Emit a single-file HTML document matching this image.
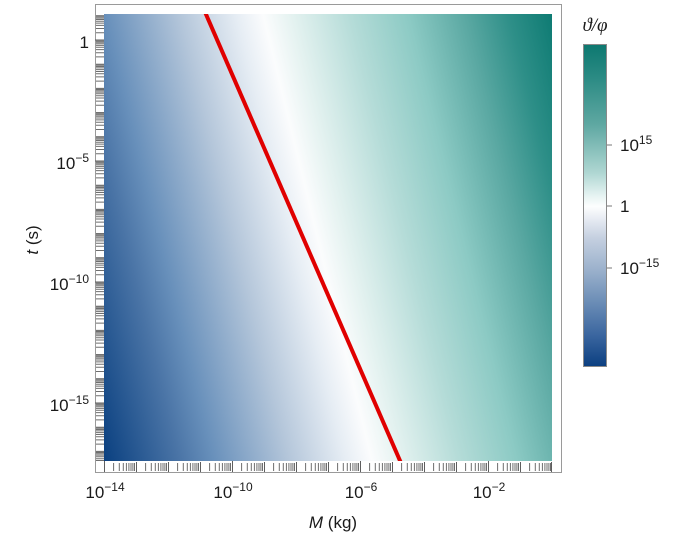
<!DOCTYPE html>
<html><head><meta charset="utf-8">
<style>
html,body{margin:0;padding:0;background:#fff;}
svg{display:block;}
text{font-family:"Liberation Sans",Arial,sans-serif;fill:#1a1a1a;}
</style></head>
<body>
<svg width="679" height="542" viewBox="0 0 679 542" xmlns="http://www.w3.org/2000/svg">
<defs>
<linearGradient id="pg" gradientUnits="userSpaceOnUse" x1="10" y1="75.7" x2="535.8" y2="-52.5">
<stop offset="0" stop-color="#0a4080"/>
<stop offset="0.135" stop-color="#4a74a6"/>
<stop offset="0.197" stop-color="#6890bb"/>
<stop offset="0.332" stop-color="#b4c6da"/>
<stop offset="0.433" stop-color="#e6edf4"/>
<stop offset="0.481" stop-color="#fbfcfd"/>
<stop offset="0.533" stop-color="#e4f2f0"/>
<stop offset="0.637" stop-color="#b5dcd8"/>
<stop offset="0.741" stop-color="#8ccac4"/>
<stop offset="0.844" stop-color="#5aa8a2"/>
<stop offset="0.922" stop-color="#2e8f88"/>
<stop offset="1" stop-color="#0e7b73"/>
</linearGradient>
<linearGradient id="cg" x1="0" y1="0" x2="0" y2="1">
<stop offset="0" stop-color="#0d7870"/>
<stop offset="0.1" stop-color="#2a8a83"/>
<stop offset="0.25" stop-color="#5fa8a2"/>
<stop offset="0.4" stop-color="#b0d7d3"/>
<stop offset="0.47" stop-color="#e6f3f2"/>
<stop offset="0.503" stop-color="#fdfefe"/>
<stop offset="0.54" stop-color="#e8ecf3"/>
<stop offset="0.6" stop-color="#c5d0e0"/>
<stop offset="0.7" stop-color="#9bb1cc"/>
<stop offset="0.8" stop-color="#6b8db6"/>
<stop offset="0.9" stop-color="#3c67a0"/>
<stop offset="1" stop-color="#0b3f80"/>
</linearGradient>
<clipPath id="pc"><rect x="104" y="14" width="448" height="447"/></clipPath>
</defs>

<!-- frame -->
<rect x="95.5" y="4.5" width="466" height="468" fill="#fff" stroke="#9a9a9a" stroke-width="1"/>
<!-- density plot -->
<rect x="104" y="14" width="448" height="447" fill="url(#pg)"/>
<!-- red line -->
<g clip-path="url(#pc)">
<line x1="205" y1="12" x2="401" y2="463" stroke="#e00000" stroke-width="4"/>
</g>

<!-- bottom ticks -->
<path stroke="#6e6e6e" stroke-width="1" fill="none" d="
M113.6 463V471M119.3 463V471M123.3 463V471M126.4 463V471M128.9 463V471M131 463V471M132.9 463V471M134.5 463V471
M145.6 463V471M151.3 463V471M155.3 463V471M158.4 463V471M160.9 463V471M163 463V471M164.9 463V471M166.5 463V471
M177.6 463V471M183.3 463V471M187.3 463V471M190.4 463V471M192.9 463V471M195 463V471M196.9 463V471M198.5 463V471
M209.6 463V471M215.3 463V471M219.3 463V471M222.4 463V471M224.9 463V471M227 463V471M228.9 463V471M230.5 463V471
M241.6 463V471M247.3 463V471M251.3 463V471M254.4 463V471M256.9 463V471M259 463V471M260.9 463V471M262.5 463V471
M273.6 463V471M279.3 463V471M283.3 463V471M286.4 463V471M288.9 463V471M291 463V471M292.9 463V471M294.5 463V471
M305.6 463V471M311.3 463V471M315.3 463V471M318.4 463V471M320.9 463V471M323 463V471M324.9 463V471M326.5 463V471
M337.6 463V471M343.3 463V471M347.3 463V471M350.4 463V471M352.9 463V471M355 463V471M356.9 463V471M358.5 463V471
M369.6 463V471M375.3 463V471M379.3 463V471M382.4 463V471M384.9 463V471M387 463V471M388.9 463V471M390.5 463V471
M401.6 463V471M407.3 463V471M411.3 463V471M414.4 463V471M416.9 463V471M419 463V471M420.9 463V471M422.5 463V471
M433.6 463V471M439.3 463V471M443.3 463V471M446.4 463V471M448.9 463V471M451 463V471M452.9 463V471M454.5 463V471
M465.6 463V471M471.3 463V471M475.3 463V471M478.4 463V471M480.9 463V471M483 463V471M484.9 463V471M486.5 463V471
M497.6 463V471M503.3 463V471M507.3 463V471M510.4 463V471M512.9 463V471M515 463V471M516.9 463V471M518.5 463V471
M529.6 463V471M535.3 463V471M539.3 463V471M542.4 463V471M544.9 463V471M547 463V471M548.9 463V471M550.5 463V471
"/>
<path stroke="#5e5e5e" stroke-width="1" fill="none" d="
M104.5 461V472M232.5 461V472M360.5 461V472M488.5 461V472
M136.5 462V472M168.5 462V472M200.5 462V472M264.5 462V472M296.5 462V472M328.5 462V472M392.5 462V472M424.5 462V472M456.5 462V472M520.5 462V472M551.5 462V472
"/>

<!-- left ticks -->
<path stroke="#6e6e6e" stroke-width="1" fill="none" d="
M96 32.7H104M96 28.5H104M96 25.4H104M96 23.1H104M96 21.2H104M96 19.5H104M96 18.1H104M96 16.9H104
M96 56.9H104M96 52.7H104M96 49.6H104M96 47.3H104M96 45.4H104M96 43.7H104M96 42.3H104M96 41.1H104
M96 81.1H104M96 76.9H104M96 73.8H104M96 71.5H104M96 69.6H104M96 67.9H104M96 66.5H104M96 65.3H104
M96 105.3H104M96 101.1H104M96 98H104M96 95.7H104M96 93.8H104M96 92.1H104M96 90.7H104M96 89.5H104
M96 129.5H104M96 125.3H104M96 122.2H104M96 119.9H104M96 118H104M96 116.3H104M96 114.9H104M96 113.7H104
M96 153.7H104M96 149.5H104M96 146.4H104M96 144.1H104M96 142.2H104M96 140.5H104M96 139.1H104M96 137.9H104
M96 177.9H104M96 173.7H104M96 170.6H104M96 168.3H104M96 166.4H104M96 164.7H104M96 163.3H104M96 162.1H104
M96 202.1H104M96 197.9H104M96 194.8H104M96 192.5H104M96 190.6H104M96 188.9H104M96 187.5H104M96 186.3H104
M96 226.3H104M96 222.1H104M96 219H104M96 216.7H104M96 214.8H104M96 213.1H104M96 211.7H104M96 210.5H104
M96 250.5H104M96 246.3H104M96 243.2H104M96 240.9H104M96 239H104M96 237.3H104M96 235.9H104M96 234.7H104
M96 274.7H104M96 270.5H104M96 267.4H104M96 265.1H104M96 263.2H104M96 261.5H104M96 260.1H104M96 258.9H104
M96 298.9H104M96 294.7H104M96 291.6H104M96 289.3H104M96 287.4H104M96 285.7H104M96 284.3H104M96 283.1H104
M96 323.1H104M96 318.9H104M96 315.8H104M96 313.5H104M96 311.6H104M96 309.9H104M96 308.5H104M96 307.3H104
M96 347.3H104M96 343.1H104M96 340H104M96 337.7H104M96 335.8H104M96 334.1H104M96 332.7H104M96 331.5H104
M96 371.5H104M96 367.3H104M96 364.2H104M96 361.9H104M96 360H104M96 358.3H104M96 356.9H104M96 355.7H104
M96 395.7H104M96 391.5H104M96 388.4H104M96 386.1H104M96 384.2H104M96 382.5H104M96 381.1H104M96 379.9H104
M96 419.9H104M96 415.7H104M96 412.6H104M96 410.3H104M96 408.4H104M96 406.7H104M96 405.3H104M96 404.1H104
M96 444.1H104M96 439.9H104M96 436.8H104M96 434.5H104M96 432.6H104M96 430.9H104M96 429.5H104M96 428.3H104
M96 460.5H104M96 458.7H104M96 456.8H104M96 455.1H104M96 453.7H104M96 452.5H104
"/>
<path stroke="#5e5e5e" stroke-width="1" fill="none" d="
M95 40H104M95 161H104M95 282H104M95 403H104
M96 15.8H104M96 64.2H104M96 88.4H104M96 112.6H104M96 136.8H104M96 185.2H104M96 209.4H104M96 233.6H104M96 257.8H104M96 306.2H104M96 330.4H104M96 354.6H104M96 378.8H104M96 427.2H104M96 451.4H104
"/>

<!-- y tick labels -->
<text x="89" y="48" font-size="17" text-anchor="end">1</text>
<text x="89" y="169" font-size="17" text-anchor="end">10<tspan dy="-7" font-size="12">−5</tspan></text>
<text x="89" y="290" font-size="17" text-anchor="end">10<tspan dy="-7" font-size="12">−10</tspan></text>
<text x="89" y="411" font-size="17" text-anchor="end">10<tspan dy="-7" font-size="12">−15</tspan></text>

<!-- x tick labels -->
<text x="105" y="498" font-size="17" text-anchor="middle">10<tspan dy="-7" font-size="12">−14</tspan></text>
<text x="233" y="498" font-size="17" text-anchor="middle">10<tspan dy="-7" font-size="12">−10</tspan></text>
<text x="361" y="498" font-size="17" text-anchor="middle">10<tspan dy="-7" font-size="12">−6</tspan></text>
<text x="489" y="498" font-size="17" text-anchor="middle">10<tspan dy="-7" font-size="12">−2</tspan></text>

<!-- axis titles -->
<text x="333" y="528" font-size="17" text-anchor="middle"><tspan font-style="italic">M</tspan> (kg)</text>
<text transform="translate(38,240) rotate(-90)" font-size="17" text-anchor="middle"><tspan font-style="italic">t</tspan> (s)</text>

<!-- colorbar -->
<rect x="583.5" y="44.5" width="23" height="322" fill="url(#cg)" stroke="#8a8a8a" stroke-width="1"/>
<path stroke="#777" stroke-width="1" d="M607 145H612M607 206H612M607 268H612"/>
<text x="620" y="151" font-size="17">10<tspan dy="-7" font-size="12">15</tspan></text>
<text x="620" y="212" font-size="17">1</text>
<text x="620" y="274" font-size="17">10<tspan dy="-7" font-size="12">−15</tspan></text>
<text x="595" y="31" font-size="19" text-anchor="middle" style="font-family:'Liberation Serif','DejaVu Serif',serif;font-style:italic;">ϑ/φ</text>
</svg>
</body></html>
